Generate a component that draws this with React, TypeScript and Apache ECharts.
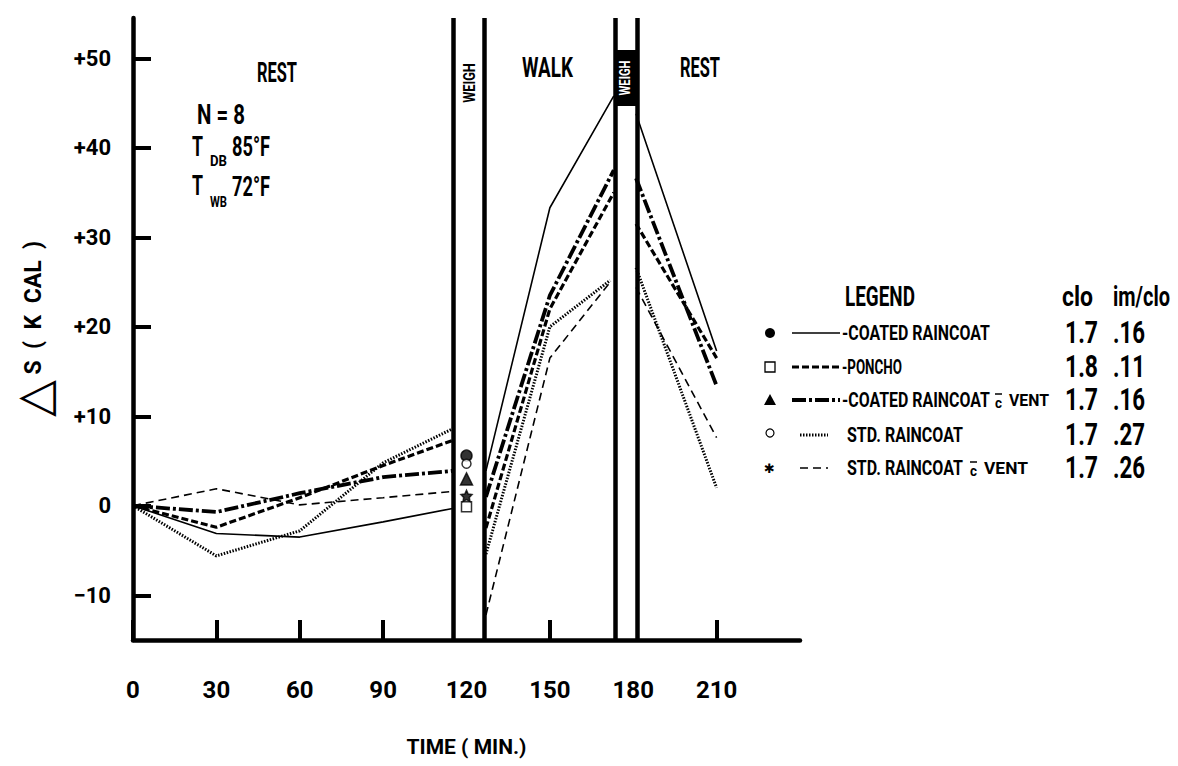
import React, { useEffect, useRef } from "react";
import * as echarts from "echarts";

const FONT = "Roboto, 'Liberation Sans', 'DejaVu Sans', sans-serif";

// time points (minutes)
const timesRest1 = [0, 30, 60, 90, 115];
const timesWalk = [127, 150, 173];
const timesRest2 = [181, 210];

// ΔS (kcal) per garment
const coatedRest1 = [0, -3.1, -3.5, -1.8, -0.3];
const coatedWalk = [3.9, 33.3, 45.8];
const coatedRest2 = [43.8, 17.3];

const ponchoRest1 = [0, -2.4, 0.9, 4.5, 7.3];
const ponchoWalk = [-2.5, 22, 35];
const ponchoRest2 = [31.5, 16.5];

const ventRest1 = [0, -0.7, 1.4, 3.2, 3.9];
const ventWalk = [1, 23.5, 37.5];
const ventRest2 = [36.6, 13.4];

const stdRest1 = [0, -5.6, -2.8, 4.8, 8.6];
const stdWalk = [-5.4, 20, 25.5];
const stdRest2 = [26.6, 2.0];

const stdVentRest1 = [0, 1.9, 0.1, 0.9, 1.6];
const stdVentWalk = [-12.2, 16.5, 25.5];
const stdVentRest2 = [24.4, 7.6];

// weighing-point markers (time 120)
const markerTime = 120;
const markerValues = [5.6, -0.1, 3.0, 4.7, 1.1];

// weigh bands (minutes)
const bandLines = [115.3, 126.5, 173.4, 181.6];

const xTicks = [0, 30, 60, 90, 150, 210];
const xLabels = [0, 30, 60, 90, 120, 150, 180, 210];
const yTicks = [-10, 0, 10, 20, 30, 40, 50];

const names = ["COATED RAINCOAT", "PONCHO", "COATED RAINCOAT", "STD. RAINCOAT", "STD. RAINCOAT"];
const cloValues = ["1.7", "1.8", "1.7", "1.7", "1.7"];
const imCloValues = [".16", ".11", ".16", ".27", ".26"];

const STAR = "path://M0,-10L2.9,-4L9.5,-3.1L4.8,1.5L5.9,8.1L0,5L-5.9,8.1L-4.8,1.5L-9.5,-3.1L-2.9,-4Z";

const lineStyles: any[] = [
  { color: "#000", width: 1.6, type: "solid" },
  { color: "#000", width: 3.2, type: [7, 3] },
  { color: "#000", width: 3.8, type: [14, 3, 3, 3] },
  { color: "#000", width: 3, type: [1.5, 1.5] },
  { color: "#000", width: 1.6, type: [8, 5] },
];

const markerDefs: any[] = [
  { symbol: "circle", size: 11, fill: "#000" },
  { symbol: "rect", size: 10, fill: "#fff" },
  { symbol: "triangle", size: 12, fill: "#000" },
  { symbol: "circle", size: 9, fill: "#fff" },
  { symbol: STAR, size: 11, fill: "#000" },
];

function build(r1: number[], w: number[], r2: number[]) {
  const d: any[] = [];
  timesRest1.forEach((t, i) => d.push([t, r1[i]]));
  d.push([120, "-"]);
  timesWalk.forEach((t, i) => d.push([t, w[i]]));
  d.push([177, "-"]);
  timesRest2.forEach((t, i) => d.push([t, r2[i]]));
  return d;
}

let ctx: CanvasRenderingContext2D | null = null;
function measure(text: string, font: string) {
  if (!ctx) ctx = document.createElement("canvas").getContext("2d");
  if (!ctx) return text.length * 10;
  ctx.font = font;
  return ctx.measureText(text).width || 1;
}

// text with left edge x, vertical middle y, fitted to given width
function tx(x: number, y: number, text: string, size: number, width: number, extra: any = {}) {
  const font = `bold ${size}px ${FONT}`;
  const w = measure(text, font);
  return {
    type: "text",
    x,
    y,
    scaleX: width / w,
    style: { text, font, fill: "#000", textVerticalAlign: "middle", ...extra },
  };
}

export default function App() {
  const ref = useRef<HTMLDivElement>(null);
  useEffect(() => {
    if (!ref.current) return;
    const chart = echarts.init(ref.current, null, { renderer: "svg" });
    const seriesData: any[] = [
      build(coatedRest1, coatedWalk, coatedRest2),
      build(ponchoRest1, ponchoWalk, ponchoRest2),
      build(ventRest1, ventWalk, ventRest2),
      build(stdRest1, stdWalk, stdRest2),
      build(stdVentRest1, stdVentWalk, stdVentRest2),
    ];
    seriesData[3] = seriesData[3].map((p: any) =>
      p[0] === 173 ? { value: p, symbol: "emptyCircle", symbolSize: 8 } : p
    );

    const series: any[] = seriesData.map((data, i) => ({
      type: "line",
      data,
      symbol: "none",
      showSymbol: i === 3,
      lineStyle: lineStyles[i],
      itemStyle: { color: "#fff", borderColor: "#000", borderWidth: 1.5 },
      silent: true,
      z: 3,
    }));
    series.push({
      type: "scatter",
      data: markerValues.map((v, i) => ({
        value: [markerTime, v],
        symbol: markerDefs[i].symbol,
        symbolSize: markerDefs[i].size,
        itemStyle: { color: markerDefs[i].fill, borderColor: "#000", borderWidth: 1.5 },
      })),
      z: 4,
      silent: true,
    });
    series.push({
      type: "line",
      data: [],
      markLine: {
        silent: true,
        symbol: "none",
        label: { show: false },
        lineStyle: { color: "#000", width: 4.5, type: "solid" },
        data: bandLines.map((x) => ({ xAxis: x })),
      },
    });

    const lg: any[] = [];
    const rowYs = [333, 367, 400, 435, 468];
    lg.push(tx(845, 297, "LEGEND", 28, 70));
    lg.push(tx(1062, 296, "clo", 28, 31));
    lg.push(tx(1113, 296, "im/clo", 28, 57));
    rowYs.forEach((y, i) => {
      const mx = 770;
      if (i === 0) lg.push({ type: "circle", shape: { cx: mx, cy: y, r: 5 }, style: { fill: "#000" } });
      if (i === 1) lg.push({ type: "rect", shape: { x: mx - 5, y: y - 5, width: 10, height: 10 }, style: { fill: "#fff", stroke: "#000", lineWidth: 1.3 } });
      if (i === 2) lg.push({ type: "polygon", shape: { points: [[mx, y - 6], [mx + 6, y + 5], [mx - 6, y + 5]] }, style: { fill: "#000" } });
      if (i === 3) lg.push({ type: "circle", shape: { cx: mx, cy: y - 2, r: 4 }, style: { fill: "#fff", stroke: "#000", lineWidth: 1.2 } });
      if (i === 4) lg.push({ type: "text", x: mx - 6, y, style: { text: "✱", font: "bold 13px 'DejaVu Sans',sans-serif", fill: "#000", textVerticalAlign: "middle" } });
      const ls = lineStyles[i];
      const x1 = i < 3 ? 792 : 800;
      const x2 = i < 3 ? 840 : 828;
      lg.push({
        type: "line",
        shape: { x1, y1: y, x2, y2: y },
        style: { stroke: "#000", lineWidth: ls.width, lineDash: Array.isArray(ls.type) ? ls.type : null },
      });
      if (i < 3) {
        lg.push(tx(842, y, "-" + names[i], 21, i === 1 ? 60 : 148));
      } else {
        lg.push(tx(847, y, names[i], 21, 116));
      }
      if (i === 2 || i === 4) {
        const cx = i === 2 ? 995 : 970;
        lg.push(tx(cx, y + 3, "c", 15, 7));
        lg.push({ type: "line", shape: { x1: cx, y1: y - 6, x2: cx + 7, y2: y - 6 }, style: { stroke: "#000", lineWidth: 1.5 } });
        lg.push(tx(cx + 14, y, "VENT", 17, i === 2 ? 40 : 44));
      }
      lg.push(tx(1065, y, cloValues[i], 31, 33));
      lg.push(tx(1113, y, imCloValues[i], 31, 32));
    });

    const option: any = {
      animation: false,
      backgroundColor: "#fff",
      grid: { left: 133, right: 378, top: 18, bottom: 126, containLabel: false, outerBoundsMode: "none" },
      xAxis: {
        type: "value",
        min: 0,
        max: 240,
        name: "TIME ( MIN.)",
        nameLocation: "middle",
        nameGap: 96,
        nameTextStyle: { fontFamily: FONT, fontWeight: "bold", fontSize: 21, color: "#000" },
        axisLine: { show: true, onZero: false, lineStyle: { color: "#000", width: 4.5 } },
        axisTick: { show: true, inside: true, length: 20, lineStyle: { color: "#000", width: 4 }, customValues: xTicks },
        axisLabel: { customValues: xLabels, margin: 38, fontFamily: FONT, fontWeight: "bold", fontSize: 24, color: "#000" },
        splitLine: { show: false },
      },
      yAxis: {
        type: "value",
        min: -15,
        max: 54.5,
        name: "{d|△}{t| S  (  K  CAL  )}",
        nameLocation: "middle",
        nameRotate: 90,
        nameGap: 76,
        nameTextStyle: {
          rich: {
            d: { fontFamily: "'DejaVu Sans',sans-serif", fontSize: 48, color: "#000" },
            t: { fontFamily: FONT, fontWeight: "bold", fontSize: 23, color: "#000" },
          },
        },
        axisLine: { show: true, onZero: false, lineStyle: { color: "#000", width: 4.5 } },
        axisTick: { show: true, inside: true, length: 18, lineStyle: { color: "#000", width: 4 }, customValues: yTicks },
        axisLabel: {
          customValues: yTicks,
          margin: 22,
          fontFamily: FONT,
          fontWeight: "bold",
          fontSize: 22,
          color: "#000",
          formatter: (v: number) => (v > 0 ? "+" + v : v < 0 ? "\u2212" + Math.abs(v) : "0"),
        },
        splitLine: { show: false },
      },
      graphic: [
        tx(257, 73, "REST", 28, 40),
        tx(522, 68, "WALK", 28, 51),
        tx(680, 68, "REST", 28, 40),
        tx(197, 115, "N = 8", 27, 48),
        tx(192, 146, "T", 28, 11),
        tx(210, 161, "DB", 15, 17),
        tx(232, 147, "85°F", 28, 38),
        tx(192, 185, "T", 28, 11),
        tx(210, 202, "WB", 15, 17),
        tx(232, 187, "72°F", 28, 38),
        {
          type: "text",
          x: 469,
          y: 83,
          rotation: Math.PI / 2,
          scaleX: 0.75,
          style: { text: "WEIGH", font: `bold 17px ${FONT}`, fill: "#000", textAlign: "center", textVerticalAlign: "middle" },
        },
        { type: "rect", shape: { x: 614, y: 50, width: 22, height: 56 }, style: { fill: "#000" } },
        {
          type: "text",
          x: 625,
          y: 78,
          rotation: Math.PI / 2,
          scaleX: 0.75,
          style: { text: "WEIGH", font: `bold 15px ${FONT}`, fill: "#fff", textAlign: "center", textVerticalAlign: "middle" },
        },
        ...lg,
      ],
      series,
    };
    chart.setOption(option);
    return () => chart.dispose();
  }, []);
  return (
    <div
      ref={ref}
      style={{ position: "fixed", left: 0, top: 0, width: 1178, height: 766, background: "#fff" }}
    />
  );
}
